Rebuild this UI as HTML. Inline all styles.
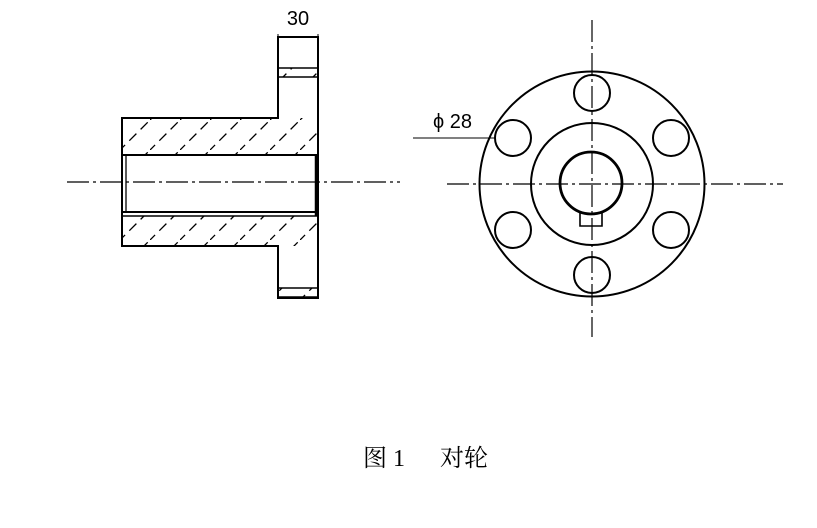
<!DOCTYPE html>
<html><head><meta charset="utf-8"><style>
html,body{margin:0;padding:0;background:#fff;}
svg{display:block;}
</style></head><body>
<svg width="817" height="528" viewBox="0 0 817 528" xmlns="http://www.w3.org/2000/svg">
<defs>
<pattern id="h" patternUnits="userSpaceOnUse" width="30" height="30">
<path d="M-2,32 L32,-2" stroke="#000" stroke-width="1.3" stroke-dasharray="10,6"/>
</pattern>
</defs>
<g stroke="#000" fill="none" stroke-width="2">
<rect x="122" y="118" width="196" height="37" fill="url(#h)" stroke="none"/>
<rect x="122" y="216" width="196" height="30" fill="url(#h)" stroke="none"/>
<rect x="279" y="68" width="39" height="9" fill="url(#h)" stroke="none"/>
<rect x="279" y="288" width="39" height="9" fill="url(#h)" stroke="none"/>
<path d="M122,118 L278,118 L278,37 L318,37 L318,298 L278,298 L278,246 L122,246 Z"/>
<line x1="278" y1="37" x2="278" y2="34" stroke-width="1"/>
<line x1="318" y1="37" x2="318" y2="34" stroke-width="1"/>
<line x1="278" y1="68" x2="318" y2="68" stroke-width="1.5"/>
<line x1="278" y1="77" x2="318" y2="77" stroke-width="1.5"/>
<line x1="278" y1="288" x2="318" y2="288" stroke-width="1.5"/>
<line x1="278" y1="297" x2="318" y2="297" stroke-width="1.5"/>
<line x1="122" y1="155" x2="318" y2="155"/>
<line x1="122" y1="212" x2="318" y2="212"/>
<line x1="122" y1="216" x2="318" y2="216" stroke-width="1.5"/>
<line x1="126" y1="155" x2="126" y2="212" stroke-width="1.3"/>
<line x1="316" y1="155" x2="316" y2="216" stroke-width="2.5"/>
<line x1="67" y1="182" x2="400" y2="182" stroke-width="1.2" stroke-dasharray="22,4,3,4"/>
<circle cx="592" cy="184" r="112.5"/>
<circle cx="592" cy="184" r="61"/>
<circle cx="591" cy="183" r="31" stroke-width="2.8"/>
<circle cx="592" cy="93" r="18"/>
<circle cx="592" cy="275" r="18"/>
<circle cx="513" cy="138" r="18"/>
<circle cx="671" cy="138" r="18"/>
<circle cx="513" cy="230" r="18"/>
<circle cx="671" cy="230" r="18"/>
<path d="M580,212 L580,226 L602,226 L602,212" stroke-width="1.6"/>
<line x1="447" y1="184" x2="783" y2="184" stroke-width="1.2" stroke-dasharray="22,4,3,4"/>
<line x1="592" y1="20" x2="592" y2="337" stroke-width="1.2" stroke-dasharray="22,4,3,4"/>
<line x1="413" y1="138" x2="495" y2="138" stroke-width="1"/>
</g>
<g font-family="Liberation Sans Narrow, Liberation Sans, sans-serif" fill="#000">
<text x="298" y="25" font-size="20" text-anchor="middle">30</text>
<text x="433" y="128" font-size="20">ϕ 28</text>
</g>
<g font-size="24" font-family="Liberation Serif, 'Noto Serif CJK SC', 'Noto Sans CJK SC', serif" fill="#000">
<text x="363" y="466">图 1</text>
<text x="440" y="466">对轮</text>
</g>
</svg>
</body></html>
